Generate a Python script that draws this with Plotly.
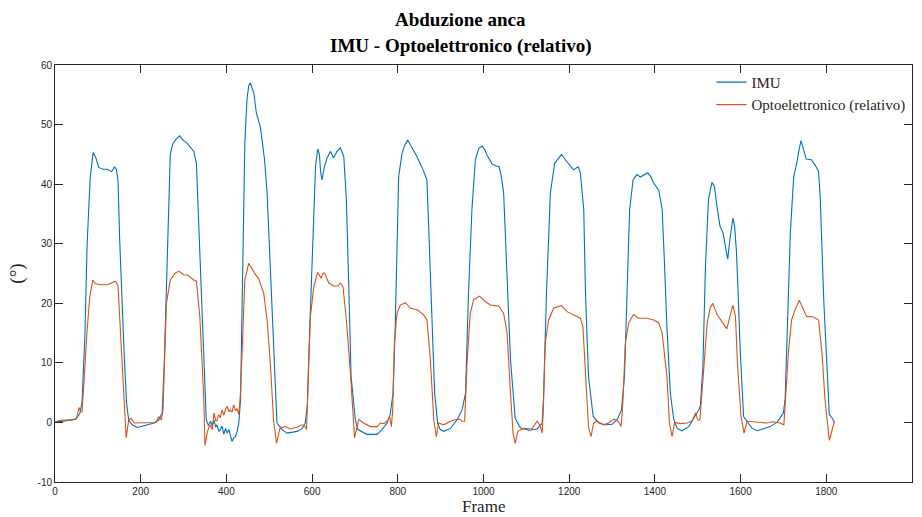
import plotly.graph_objects as go

# ---------------- data ----------------
imu_frame = [0, 20, 48, 58, 63, 70, 75, 82, 89, 95, 102, 112, 122, 132, 139, 143, 147, 151, 156, 161,
             167, 172, 180, 192, 210, 231, 242, 250, 255, 262, 269, 275, 282, 291, 300, 308, 316, 324,
             330, 334, 338, 343, 347, 353, 358, 363, 367, 371, 375, 378, 382, 386, 390, 394, 398, 402,
             406, 410, 413, 417, 421, 425, 429, 433, 437, 443, 448, 452, 456, 460, 464, 470, 475, 479,
             484, 489, 495, 501, 507, 512, 518, 530, 542, 565, 577, 584, 589, 592, 600, 608, 613, 617,
             620, 623, 629, 635, 643, 650, 658, 666, 674, 680, 686, 691, 701, 707, 728, 752, 763, 775,
             782, 789, 794, 802, 810, 816, 823, 828, 833, 845, 859, 868, 872, 880, 886, 893, 899, 907,
             923, 938, 950, 958, 965, 973, 981, 989, 997, 1003, 1008, 1020, 1030, 1036, 1041, 1047,
             1055, 1063, 1074, 1086, 1105, 1125, 1137, 1140, 1147, 1156, 1166, 1171, 1182, 1191, 1203,
             1210, 1221, 1226, 1234, 1238, 1245, 1256, 1269, 1284, 1300, 1312, 1322, 1329, 1335, 1341,
             1349, 1358, 1366, 1375, 1383, 1390, 1397, 1409, 1417, 1422, 1428, 1436, 1444, 1452, 1463,
             1479, 1494, 1502, 1506, 1512, 1518, 1525, 1533, 1539, 1545, 1552, 1559, 1564, 1570, 1575,
             1582, 1586, 1590, 1594, 1599, 1607, 1615, 1627, 1639, 1654, 1669, 1685, 1700, 1704, 1708,
             1716, 1724, 1731, 1737, 1741, 1747, 1753, 1765, 1774, 1782, 1786, 1794, 1802, 1807, 1814,
             1819]
imu_val = [0, 0.2, 0.55, 1.5, 3.3, 15, 30, 41, 45.3, 44.5, 42.8, 42.5, 42.5, 42.1, 42.9, 42.5, 40.7,
           30.6, 20, 12.2, 3.2, 0.4, -0.4, -0.85, -0.5, -0.1, 0.4, 1.6, 10, 25.6, 45, 46.8, 47.5, 48.1,
           47.3, 46.9, 46.2, 45.5, 43.5, 36, 28.4, 17, 8.8, 0.4, -0.5, 0.2, -0.5, 0.4, -0.8, -0.4, -1.5,
           -1.2, -0.6, -2.0, -1.0, -1.8, -1.2, -2.5, -3.2, -2.6, -2.4, -1.5, -0.1, 3.8, 24.5, 46.9, 54.2,
           56.5, 57.0, 56.3, 55.3, 51.9, 50.5, 49.7, 47, 44.1, 38.5, 28.4, 18.9, 7.7, -0.1, -1.2, -1.8,
           -1.5, -1.0, -0.1, 3, 10.5, 27.3, 43, 45.9, 45, 42, 40.7, 43, 44.4, 45.5, 44.4, 45.5, 46.1,
           44.6, 37.4, 21.7, 7.7, 0.4, -1.2, -2.0, -2.0, -1.2, -0.1, 1.3, 4.9, 16.1, 41.3, 45.2, 46.5,
           47.4, 46.8, 46, 44.6, 42.4, 40.7, 32.9, 16.1, 4.9, -0.1, -1.2, -1.5, -1.0, 0.4, 2.1, 4.9,
           21.7, 35.7, 44.1, 46, 46.4, 45.8, 44.9, 43.4, 43, 43, 41.5, 38.5, 24.5, 10.5, 0.7, -0.9,
           -1.3, -1.1, -0.1, 4, 21.7, 38.5, 43.5, 44, 45, 44.1, 43, 42.4, 42.9, 41.9, 35.7, 21.7, 7.7,
           1.0, -0.1, -0.4, -0.3, 0.5, 2.1, 7.7, 21.7, 35.7, 40.7, 41.6, 41.2, 41.6, 41.9, 41.3, 40.2,
           39, 35.7, 27.3, 16.1, 4.9, 0.5, -1.0, -1.4, -0.7, 1.0, 2.1, 2.7, 9.4, 26.2, 37.4, 40.3, 39.6,
           36.2, 32.9, 31.8, 29.5, 27.4, 30.7, 34.3, 32.9, 29, 22.3, 12.2, 1.0, 0.2, -1.0, -1.4, -1.1,
           -0.7, 0, 1.6, 4, 12.2, 31.8, 41.3, 43.5, 46, 47.3, 45.8, 44.2, 44.1, 43.2, 42.1, 37.4, 20.6,
           9.4, 1.3, 0.7, 0]

opto_frame = [0, 10, 25, 40, 50, 56, 60, 63, 66, 70, 75, 81, 88, 94, 105, 122, 132, 141, 147, 153,
              161, 166, 172, 178, 185, 200, 220, 236, 242, 248, 252, 256, 260, 269, 280, 289, 300, 310,
              318, 324, 330, 338, 347, 350, 355, 359, 363, 367, 371, 375, 378, 382, 386, 390, 394, 398,
              402, 406, 409, 413, 417, 421, 425, 429, 433, 437, 443, 452, 458, 464, 470, 475, 487, 495,
              503, 510, 517, 525, 530, 538, 549, 565, 577, 584, 587, 590, 596, 604, 613, 621, 625, 629,
              639, 650, 660, 666, 672, 680, 690, 699, 709, 720, 736, 752, 759, 768, 777, 781, 785, 788,
              792, 798, 806, 818, 829, 845, 860, 868, 876, 884, 890, 895, 907, 923, 930, 944, 950, 956,
              962, 969, 977, 991, 1004, 1016, 1036, 1047, 1055, 1063, 1069, 1074, 1080, 1094, 1113,
              1125, 1131, 1137, 1140, 1144, 1152, 1164, 1182, 1195, 1210, 1226, 1232, 1238, 1245, 1251,
              1257, 1265, 1280, 1292, 1304, 1314, 1321, 1325, 1331, 1339, 1350, 1362, 1382, 1397, 1409,
              1417, 1428, 1434, 1440, 1446, 1460, 1475, 1487, 1495, 1500, 1505, 1514, 1522, 1529, 1535,
              1545, 1557, 1568, 1575, 1582, 1588, 1593, 1601, 1608, 1615, 1630, 1645, 1660, 1675, 1692,
              1701, 1706, 1712, 1719, 1727, 1737, 1745, 1754, 1770, 1782, 1790, 1797, 1807, 1814, 1819]
opto_val = [0, 0.3, 0.4, 0.4, 0.6, 2.5, 1.8, 1.8, 5, 10, 15.5, 21, 23.9, 23.3, 23.1, 23.1, 23.4, 23.7,
            23, 15.5, 4.3, -2.6, 0.4, 0.7, -0.1, -0.1, -0.1, 0, 1.0, 0.4, 2, 13, 20, 23.9, 25, 25.4,
            24.8, 24.7, 24.2, 23.9, 23.7, 17.8, 4.3, -3.9, -1.8, -0.8, -0.4, -1.2, 1.6, 0.3, 0.3, 1.3,
            0.8, 2.1, 1.2, 2.2, 2.7, 1.8, 2.1, 1.7, 3.0, 2.0, 2.3, 1.3, 5, 13.3, 23.9, 26.7, 26, 25.1,
            24.6, 24.2, 21.7, 17.2, 9.4, 0.4, -3.5, -1.0, -0.8, -0.7, -1.1, -0.8, -0.4, -0.7, -1.2, 5,
            17.8, 22.8, 25.2, 24.2, 25, 25.1, 23.4, 22.9, 22.9, 23.4, 22.8, 17.2, 7.7, -2.6, 0.5, -0.1,
            -0.7, -0.7, -0.1, -0.2, 0.4, 1.0, -0.7, 2, 13.3, 18.3, 19.7, 20.1, 19.2, 18.9, 18.1, 17.2,
            10.5, 0.4, -2.4, -0.1, -0.4, 0.2, 0.4, 0.55, 0.2, 0.2, 10.5, 18.3, 20.6, 21.2, 20.3, 19.7,
            19.5, 18.3, 15.0, 4.9, -1.8, -3.5, -1.5, -1.0, -1.1, 0.2, -0.4, -1.8, 3, 13.3, 17.2, 19.2,
            19.6, 18.6, 18.1, 17.5, 16.1, 7.7, -0.7, -2.4, -0.1, 0.2, -0.4, -0.1, 0.55, 0.2, -0.7, 3,
            13.3, 16.7, 18.1, 17.5, 17.5, 17.2, 16.7, 15.0, 7.7, -0.1, -2.4, 0, -0.2, -0.1, 0.3, 1.6,
            0.4, 0.4, 9.4, 16.7, 19.2, 20.0, 18.1, 16.9, 15.7, 17.8, 19.7, 17.8, 9.4, 1.0, -1.8, 0.2,
            0.1, 0, -0.1, 0.1, -0.1, -0.4, 5, 12.2, 17.2, 18.9, 20.5, 19.2, 17.8, 17.7, 17.2, 11.6,
            3.8, -3.0, -1.0, 0.2]

x_ticks = [0, 200, 400, 600, 800, 1000, 1200, 1400, 1600, 1800, 2000]
y_ticks = [-10, 0, 10, 20, 30, 40, 50, 60]
series_names = ["IMU", "Optoelettronico (relativo)"]
title_lines = ["Abduzione anca", "IMU - Optoelettronico (relativo)"]
x_label = "Frame"
y_label = "(°)"

# ---------------- figure ----------------
AX = "#262626"
SERIF = "Liberation Serif"

fig = go.Figure()
fig.add_trace(go.Scatter(x=imu_frame, y=imu_val, mode="lines", name=series_names[0],
                         line=dict(color="#0072BD", width=1.1)))
fig.add_trace(go.Scatter(x=opto_frame, y=opto_val, mode="lines", name=series_names[1],
                         line=dict(color="#D95319", width=1.1)))

axis_common = dict(showline=True, linecolor=AX, linewidth=1, mirror="ticks",
                   ticks="inside", ticklen=8, tickcolor=AX, tickwidth=1,
                   showgrid=False, zeroline=False, automargin=False,
                   tickfont=dict(family="Liberation Sans", size=10, color=AX))

fig.update_xaxes(range=[0, 2000], tickvals=x_ticks, ticktext=[str(v) for v in x_ticks],
                 **axis_common)
fig.update_yaxes(range=[-10, 60], tickvals=y_ticks, ticktext=[str(v) for v in y_ticks],
                 title=dict(text=y_label, font=dict(family=SERIF, size=19, color=AX), standoff=8),
                 **axis_common)

fig.update_layout(
    width=922, height=517,
    margin=dict(l=55, r=10, t=65, b=35, autoexpand=False),
    paper_bgcolor="white", plot_bgcolor="white",
    showlegend=True,
    legend=dict(x=0.766, y=0.998, xanchor="left", yanchor="top",
                bgcolor="rgba(255,255,255,0)", borderwidth=0,
                font=dict(family=SERIF, size=15, color=AX),
                tracegroupgap=0, itemwidth=30),
    annotations=[
        dict(text="<b>" + title_lines[0] + "</b>", xref="paper", yref="paper",
             x=0.4737, y=(482 - 19) / 417, xanchor="center", yanchor="middle", showarrow=False,
             font=dict(family=SERIF, size=19, color="black")),
        dict(text="<b>" + title_lines[1] + "</b>", xref="paper", yref="paper",
             x=0.4737, y=(482 - 46) / 417, xanchor="center", yanchor="middle", showarrow=False,
             font=dict(family=SERIF, size=19, color="black")),
        dict(text=x_label, xref="paper", yref="paper",
             x=0.5, y=(482 - 517) / 417, xanchor="center", yanchor="bottom", showarrow=False,
             borderpad=0, font=dict(family=SERIF, size=17, color=AX)),
    ],
)

fig.write_html("out.html")
